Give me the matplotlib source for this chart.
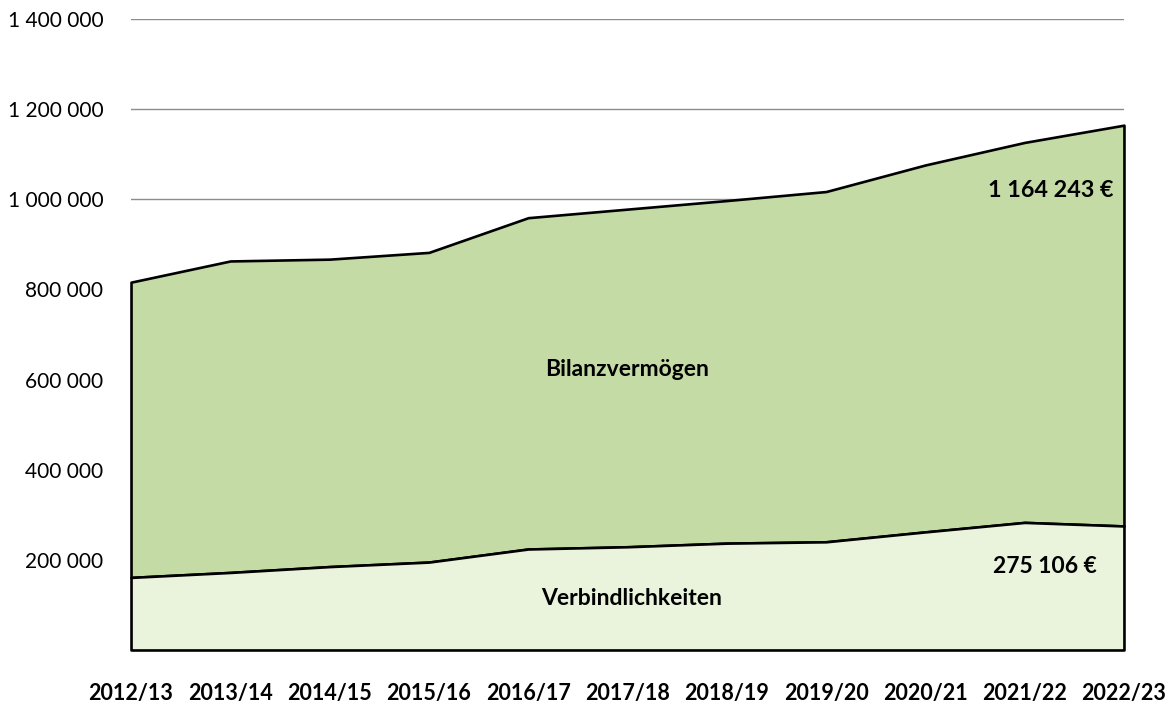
import numpy as np
import matplotlib.pyplot as plt
from matplotlib.ticker import FuncFormatter

# Werte in Euro
jahre = ["2012/13", "2013/14", "2014/15", "2015/16", "2016/17", "2017/18",
         "2018/19", "2019/20", "2020/21", "2021/22", "2022/23"]
bilanzvermoegen = [816000, 863000, 867000, 882000, 959000, 978000,
                   997000, 1017000, 1076000, 1126000, 1164243]
verbindlichkeiten = [161000, 172000, 185000, 195000, 224000, 229000,
                     237000, 240000, 262000, 283000, 275106]

farbe_oben = "#c4dba6"
farbe_unten = "#eaf3dc"

plt.rcParams['font.family'] = ['Lato', 'DejaVu Sans']

fig = plt.figure(figsize=(11.73, 7.02), dpi=100)
ax = fig.add_axes([0.1117, 0.0741, 0.8465, 0.899])

x = np.arange(len(jahre))

# Flächen mit schwarzem Rand
ax.fill_between(x, verbindlichkeiten, bilanzvermoegen, facecolor=farbe_oben,
                edgecolor="black", linewidth=1.9, zorder=2, clip_on=False)
ax.fill_between(x, 0, verbindlichkeiten, facecolor=farbe_unten,
                edgecolor="black", linewidth=1.9, zorder=2, clip_on=False)

ax.set_xlim(0, len(jahre) - 1)
ax.set_ylim(0, 1400000)
ax.set_yticks(np.arange(200000, 1400001, 200000))
ax.yaxis.set_major_formatter(FuncFormatter(lambda v, p: f"{int(v):,}".replace(",", " ")))
ax.grid(axis="y", color="#8c8c8c", linewidth=1.0, zorder=0)
ax.set_axisbelow(True)

ax.set_xticks(x)
ax.set_xticklabels(jahre, fontweight="bold")
ax.tick_params(axis="x", length=0, pad=24, labelsize=15.5)
ax.tick_params(axis="y", length=0, pad=20, labelsize=15)

for s in ax.spines.values():
    s.set_visible(False)

# Beschriftungen
ax.text(5.0, 623000, "Bilanzvermögen", ha="center", va="center",
        fontsize=16.5, fontweight="bold", zorder=3)
ax.text(5.045, 115000, "Verbindlichkeiten", ha="center", va="center",
        fontsize=16.5, fontweight="bold", zorder=3)
ax.text(9.89, 1020000, "1 164 243 €", ha="right", va="center",
        fontsize=16.8, fontweight="bold", zorder=3)
ax.text(9.73, 186000, "275 106 €", ha="right", va="center",
        fontsize=16.5, fontweight="bold", zorder=3)

fig.savefig("out.png", dpi=100)
